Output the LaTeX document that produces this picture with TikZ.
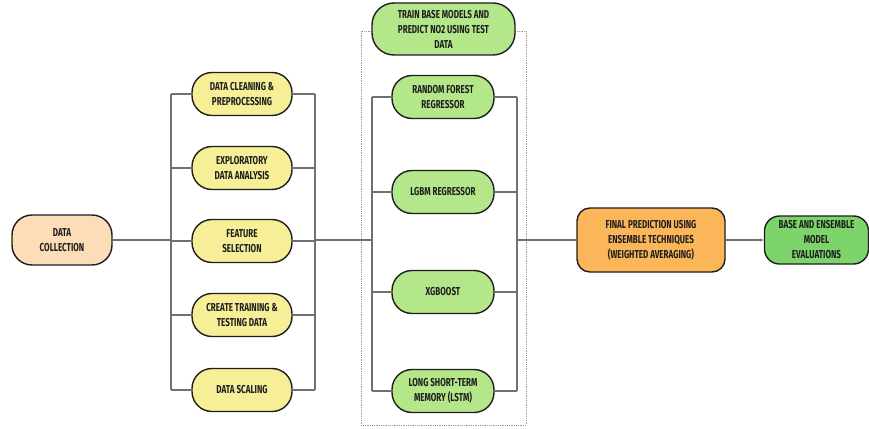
\documentclass[tikz,border=0pt]{standalone}
\usepackage{fontspec}
\setmainfont{Fira Sans}[FakeStretch=0.7]
\usetikzlibrary{arrows.meta}
\definecolor{peach}{HTML}{FDDDB8}
\definecolor{lemon}{HTML}{F6EF98}
\definecolor{lime}{HTML}{B4E68A}
\definecolor{amber}{HTML}{FBB65A}
\definecolor{leaf}{HTML}{7CD46A}
\definecolor{wire}{HTML}{707070}
\definecolor{ink}{HTML}{1E1E1E}
\begin{document}
\begin{tikzpicture}[x=1pt,y=-1pt,
  stage/.style={draw=ink,line width=1.4pt,align=center,inner sep=0pt,
    text=ink,font=\fontsize{11.5}{15}\selectfont\bfseries},
  pill/.style={stage,rounded corners=20pt,minimum height=43pt},
  prepbox/.style={pill,fill=lemon,minimum width=100pt},
  modelbox/.style={pill,fill=lime,minimum width=102pt},
  wireline/.style={draw=wire,line width=1.1pt},
  frame/.style={draw=wire!70,line width=0.8pt,densely dotted}]
\useasboundingbox (0,0) rectangle (869,428);

% model stage frame, behind its header
\draw[frame] (361,31) rectangle (526,425);

% nodes
\node[pill,fill=peach,minimum width=100pt,minimum height=50pt] (dc) at (62,240) {DATA\\COLLECTION};

\node[prepbox] (clean) at (242,94) {DATA CLEANING \&\\PREPROCESSING};
\node[prepbox] (eda) at (242,168) {EXPLORATORY\\DATA ANALYSIS};
\node[prepbox] (feat) at (242,241) {FEATURE\\SELECTION};
\node[prepbox] (split) at (242,315) {CREATE TRAINING \&\\TESTING DATA};
\node[prepbox] (scale) at (242,390) {DATA SCALING};

\node[pill,fill=lime,minimum width=143pt,minimum height=52pt,rounded corners=22pt] (train) at (443.5,29) {TRAIN BASE MODELS AND\\PREDICT NO2 USING TEST\\DATA};

\node[modelbox] (rf) at (443,97) {RANDOM FOREST\\REGRESSOR};
\node[modelbox] (lgbm) at (443,192) {LGBM REGRESSOR};
\node[modelbox] (xgb) at (443,292) {XGBOOST};
\node[modelbox] (lstm) at (443,391) {LONG SHORT-TERM\\MEMORY (LSTM)};

\node[stage,fill=amber,rounded corners=13pt,minimum width=148pt,minimum height=64pt] (final) at (651,240) {FINAL PREDICTION USING\\ENSEMBLE TECHNIQUES\\(WEIGHTED AVERAGING)};
\node[stage,fill=leaf,rounded corners=15pt,minimum width=104pt,minimum height=48pt] (eval) at (816.5,240) {BASE AND ENSEMBLE\\MODEL\\EVALUATIONS};

% bus coordinates
\coordinate (busA) at (171,240);
\coordinate (busB) at (315,240);
\coordinate (busC) at (372,240);
\coordinate (busD) at (517,240);

% collection to preprocessing bus
\draw[wireline] (dc.east) -- (dc.east -| busA);
\draw[wireline] (clean.west -| busA) -- (scale.west -| busA);
\foreach \n in {clean,eda,feat,split,scale}
  \draw[wireline] (\n.west -| busA) -- (\n.west);
\draw[wireline] (clean.east -| busB) -- (scale.east -| busB);
\foreach \n in {clean,eda,feat,split,scale}
  \draw[wireline] (\n.east) -- (\n.east -| busB);

% preprocessing to model bus
\draw[wireline] (busB) -- (busC);
\draw[wireline] (rf.west -| busC) -- (lstm.west -| busC);
\foreach \n in {rf,lgbm,xgb,lstm}
  \draw[wireline] (\n.west -| busC) -- (\n.west);
\draw[wireline] (rf.east -| busD) -- (lstm.east -| busD);
\foreach \n in {rf,lgbm,xgb,lstm}
  \draw[wireline] (\n.east) -- (\n.east -| busD);

% models to ensemble and evaluation
\draw[wireline] (busD) -- (final.west);
\draw[wireline,-{Stealth[length=4pt,width=3pt]}] (final.east) -- (eval.west);
\end{tikzpicture}
\end{document}
